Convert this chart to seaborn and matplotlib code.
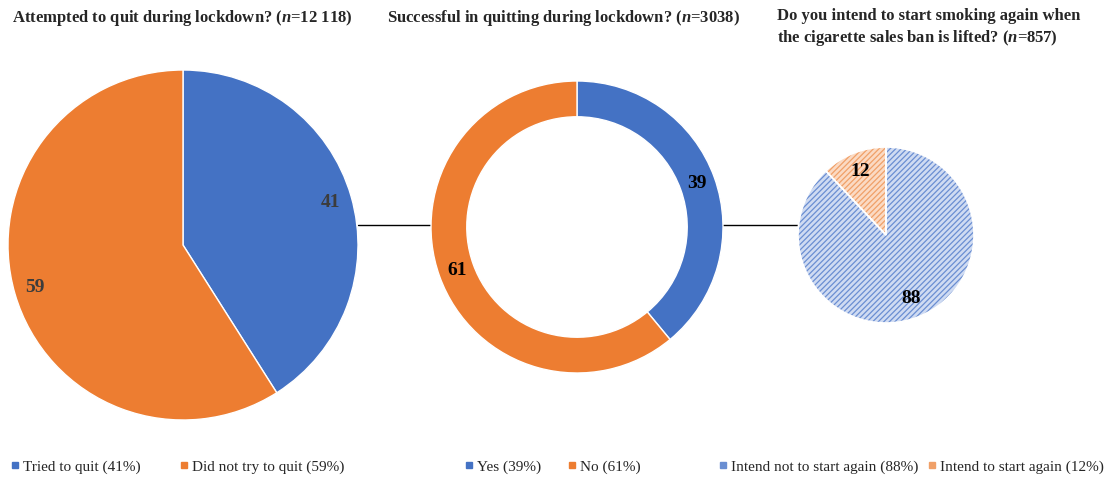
import matplotlib
matplotlib.use("Agg")
import matplotlib.pyplot as plt
from matplotlib.lines import Line2D
import seaborn as sns

# ---------------- data ----------------
titles = [
    "Attempted to quit during lockdown? ($n$=12 118)",
    "Successful in quitting during lockdown? ($n$=3038)",
    "Do you intend to start smoking again when\nthe cigarette sales ban is lifted? ($n$=857)",
]
pie1_labels = ["Tried to quit (41%)", "Did not try to quit (59%)"]
pie1_values = [41, 59]
pie2_labels = ["Yes (39%)", "No (61%)"]
pie2_values = [39, 61]
pie3_labels = ["Intend not to start again (88%)", "Intend to start again (12%)"]
pie3_values = [88, 12]

# ---------------- style ----------------
sns.set_theme(style="white")
plt.rcParams["font.family"] = ["Liberation Serif", "DejaVu Serif"]
plt.rcParams["mathtext.fontset"] = "custom"
plt.rcParams["mathtext.rm"] = "Liberation Serif:bold"
plt.rcParams["mathtext.it"] = "Liberation Serif:bold:italic"
plt.rcParams["mathtext.bf"] = "Liberation Serif:bold"
plt.rcParams["hatch.linewidth"] = 0.9

palette = sns.color_palette(["#4472C4", "#ED7D31"])
light_fill = ["#cfdbf2", "#fbdac3"]
hatch_col = ["#6a8ed2", "#f0a068"]

W, H = 1115, 482
fig = plt.figure(figsize=(W / 100, H / 100), dpi=100)

# background axes in pixel coordinates for connector lines
bg = fig.add_axes([0, 0, 1, 1])
bg.set_xlim(0, W)
bg.set_ylim(H, 0)
bg.axis("off")
bg.plot([358, 432], [225, 225], color="black", lw=1.0)
bg.plot([722, 798], [225, 225], color="black", lw=1.0)


def pie_axes(cx, cy, r):
    return fig.add_axes([(cx - r) / W, 1 - (cy + r) / H, 2 * r / W, 2 * r / H])


def fmt(p):
    return f"{p:.0f}"


LBL = 14

# ---- pie 1 ----
ax1 = pie_axes(183, 245, 175)
ax1.pie(pie1_values, colors=palette, startangle=90, counterclock=False,
        autopct=fmt, pctdistance=0.88,
        wedgeprops=dict(edgecolor="white", linewidth=1),
        textprops=dict(fontsize=LBL, fontweight="bold", color="#3c3c3c"))
ax1.set_xlim(-1, 1); ax1.set_ylim(-1, 1); ax1.axis("off")

# ---- pie 2 (donut) ----
ax2 = pie_axes(577, 227, 146)
ax2.pie(pie2_values, colors=palette, startangle=90, counterclock=False,
        autopct=fmt, pctdistance=0.87,
        wedgeprops=dict(edgecolor="white", linewidth=1, width=0.245),
        textprops=dict(fontsize=LBL, fontweight="bold", color="black"))
ax2.set_xlim(-1, 1); ax2.set_ylim(-1, 1); ax2.axis("off")

# ---- pie 3 (hatched) ----
ax3 = pie_axes(886, 235, 88)
wedges, texts, autotexts = ax3.pie(
    pie3_values, colors=light_fill, startangle=90, counterclock=False,
    autopct=fmt, pctdistance=0.78,
    wedgeprops=dict(linewidth=0),
    textprops=dict(fontsize=LBL, fontweight="bold", color="black"))
for w, hc in zip(wedges, hatch_col):
    w.set_edgecolor(hc)
    w.set_hatch("//////")
ax3.pie(pie3_values, colors=["none", "none"], startangle=90, counterclock=False,
        wedgeprops=dict(edgecolor="white", linewidth=1.2))
for t in autotexts:
    t.set_zorder(5)
ax3.set_xlim(-1, 1); ax3.set_ylim(-1, 1); ax3.axis("off")

# ---------------- titles ----------------
TS = 12
fig.text(12 / W, 1 - 18 / H, titles[0], fontsize=TS, fontweight="bold",
         ha="left", va="center")
fig.text(387 / W, 1 - 18 / H, titles[1], fontsize=TS, fontweight="bold",
         ha="left", va="center")
for i, line in enumerate(titles[2].split("\n")):
    fig.text(777 / W, 1 - (16 + 22 * i) / H, line, fontsize=TS,
             fontweight="bold", ha="left", va="center")

# ---------------- legends ----------------
LS = 11


def legend_entry(marker_x, label, color):
    h = Line2D([], [], marker="s", linestyle="none", markersize=4, color=color)
    start = marker_x - 0.3 * LS * 100 / 72
    fig.legend([h], [label], loc="center left",
               bbox_to_anchor=(start / W, 1 - 467 / H), frameon=False,
               fontsize=LS, handlelength=0.6, handletextpad=0.25,
               borderpad=0, borderaxespad=0)


for mx, lab, c in zip([15, 184], pie1_labels, palette):
    legend_entry(mx, lab, c)
for mx, lab, c in zip([469, 572], pie2_labels, palette):
    legend_entry(mx, lab, c)
for mx, lab, c in zip([723, 932], pie3_labels, hatch_col):
    legend_entry(mx, lab, c)

fig.savefig("out.png", dpi=100)
